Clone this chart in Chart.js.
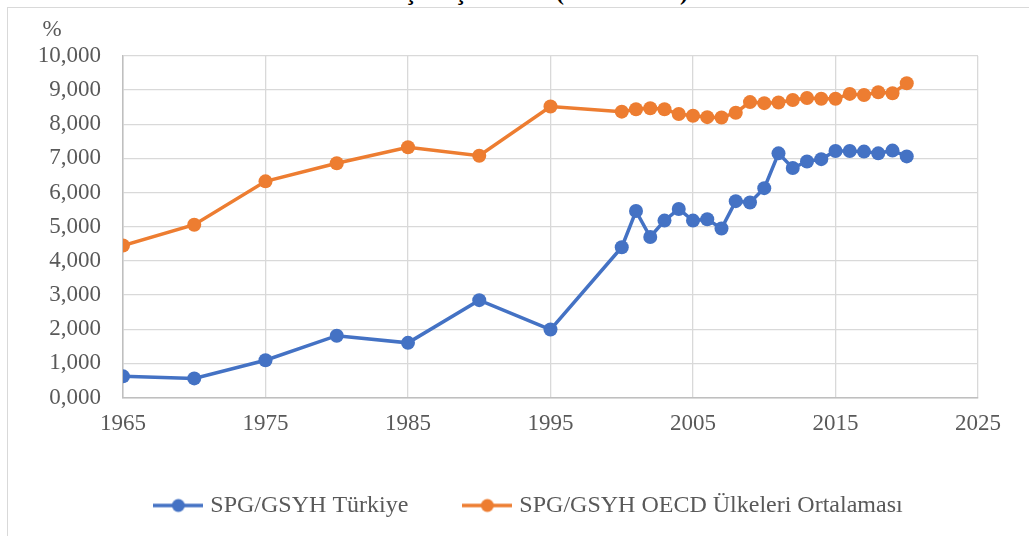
<!DOCTYPE html>
<html>
<head>
<meta charset="utf-8">
<script src="https://cdn.jsdelivr.net/npm/chart.js@4.4.1/dist/chart.umd.min.js"></script>
<style>
  html, body { margin: 0; padding: 0; background: #fff; overflow: hidden; width: 1029px; height: 536px; }
  #title { position: absolute; left: 0; width: 688px; top: -21px; text-align: right; font: bold 24px "Liberation Serif", serif; color: #000; white-space: nowrap; }
  #wrap { position: absolute; left: 7px; top: 7px; width: 1045px; height: 560px; border: 1.5px solid #d9d9d9; }
  #wrap canvas { display: block; }
</style>
</head>
<body>
<div id="title">SPG/GSYH Oranları: Kişi Başına SPG (1965 - 2020)</div>
<div id="wrap"><canvas id="c" width="1045" height="540"></canvas></div>
<script>
// ===== SPG/GSYH: Türkiye vs OECD =====

const COLORS = { blue: '#4472C4', orange: '#ED7D31', grid: '#d9d9d9', text: '#595959' };
const FONT = '"Liberation Serif", "Times New Roman", serif';

const years = [1965, 1970, 1975, 1980, 1985, 1990, 1995,
  2000, 2001, 2002, 2003, 2004, 2005, 2006, 2007, 2008, 2009, 2010,
  2011, 2012, 2013, 2014, 2015, 2016, 2017, 2018, 2019, 2020];

const turkiye = [0.62, 0.56, 1.09, 1.81, 1.60, 2.85, 1.99,
  4.40, 5.46, 4.70, 5.18, 5.52, 5.18, 5.22, 4.95, 5.75, 5.71, 6.13,
  7.15, 6.72, 6.91, 6.98, 7.22, 7.22, 7.20, 7.15, 7.23, 7.06];

const oecd = [4.45, 5.06, 6.33, 6.86, 7.33, 7.08, 8.52,
  8.37, 8.44, 8.47, 8.44, 8.30, 8.25, 8.21, 8.20, 8.34, 8.65, 8.62,
  8.64, 8.71, 8.77, 8.75, 8.75, 8.89, 8.86, 8.94, 8.91, 9.20];

const seriesLabels = ['SPG/GSYH Türkiye', 'SPG/GSYH OECD Ülkeleri Ortalaması'];
const unitLabel = '%';

const toPoints = vals => years.map((x, i) => ({ x, y: vals[i] }));

// legend marker: short line with a dot in the middle
function legendMarker(color) {
  const c = document.createElement('canvas');
  c.width = 50; c.height = 16;
  const g = c.getContext('2d');
  g.strokeStyle = color; g.lineWidth = 3.5;
  g.beginPath(); g.moveTo(0, 8); g.lineTo(50, 8); g.stroke();
  g.fillStyle = color;
  g.beginPath(); g.arc(25, 8, 6.5, 0, Math.PI * 2); g.fill();
  return c;
}
const markers = [legendMarker(COLORS.blue), legendMarker(COLORS.orange)];

const unitPlugin = {
  id: 'unitLabel',
  afterDraw(chart) {
    const ctx = chart.ctx;
    ctx.save();
    ctx.font = '23px ' + FONT;
    ctx.fillStyle = COLORS.text;
    ctx.textAlign = 'center';
    ctx.textBaseline = 'middle';
    ctx.fillText(unitLabel, 44, 22);
    ctx.restore();
  }
};

const lineStyle = color => ({
  borderColor: color, backgroundColor: color,
  borderWidth: 3.5, pointRadius: 7, pointHoverRadius: 7,
  pointBackgroundColor: color, pointBorderWidth: 0,
  fill: false, tension: 0
});

new Chart(document.getElementById('c'), {
  type: 'line',
  data: {
    datasets: [
      { label: seriesLabels[0], data: toPoints(turkiye), ...lineStyle(COLORS.blue) },
      { label: seriesLabels[1], data: toPoints(oecd), ...lineStyle(COLORS.orange) }
    ]
  },
  options: {
    responsive: false, animation: false,
    layout: { padding: { top: 48, left: 0, right: 0, bottom: 20.5 } },
    plugins: {
      tooltip: { enabled: false },
      legend: {
        position: 'bottom',
        labels: {
          usePointStyle: true, pointStyleWidth: 40, boxHeight: 16,
          padding: 59, color: COLORS.text,
          font: { family: FONT, size: 24 },
          generateLabels(chart) {
            const items = Chart.defaults.plugins.legend.labels.generateLabels(chart);
            return items.map((it, i) => ({ ...it, pointStyle: markers[i] }));
          }
        }
      }
    },
    scales: {
      x: {
        type: 'linear', min: 1965, max: 2025,
        ticks: { stepSize: 10, padding: 13, color: COLORS.text, font: { family: FONT, size: 23 }, callback: v => String(v) },
        grid: { color: COLORS.grid, lineWidth: 1.3, drawTicks: false },
        border: { color: '#bfbfbf', width: 1.5 },
        afterFit(s) { s.height = 37; }
      },
      y: {
        min: 0, max: 10,
        ticks: { stepSize: 1, padding: 22, color: COLORS.text, font: { family: FONT, size: 23 }, callback: v => v.toFixed(3).replace('.', ',') },
        grid: { color: COLORS.grid, lineWidth: 1.3, drawTicks: false },
        border: { color: '#bfbfbf', width: 1.5 },
        afterFit(s) { s.width = 115; }
      },
      // empty right-hand space so the plot ends where the cropped figure does
      pad: {
        position: 'right', min: 0, max: 1,
        ticks: { display: false },
        grid: { display: false },
        border: { display: false },
        afterFit(s) { s.width = 75; }
      }
    }
  },
  plugins: [unitPlugin]
});
</script>
</body>
</html>
